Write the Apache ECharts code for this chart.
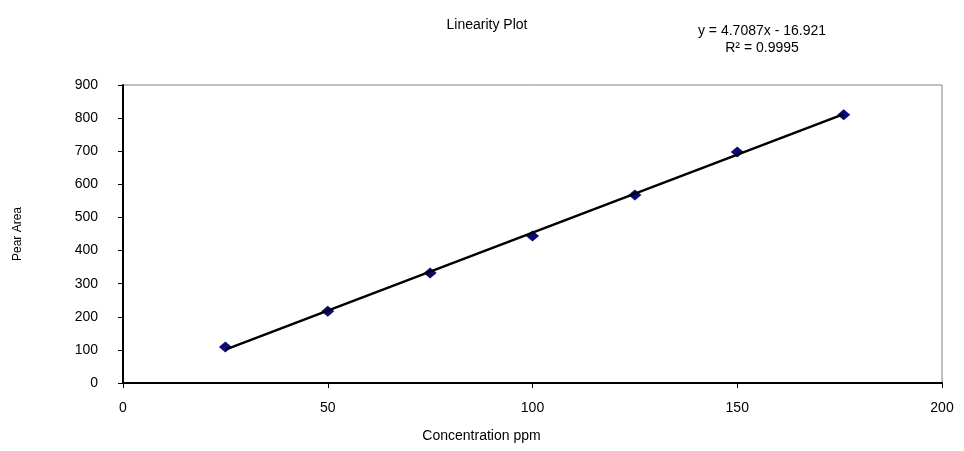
<!DOCTYPE html>
<html>
<head>
<meta charset="utf-8">
<script src="https://cdn.jsdelivr.net/npm/echarts@6/dist/echarts.min.js"></script>
<style>
  html, body { margin: 0; padding: 0; background: #fff; }
  #chart { width: 964px; height: 451px; }
</style>
</head>
<body>
<div id="chart"></div>
<script>
// ---- data ----
const concentration = [25, 50, 75, 100, 125, 150, 176];
const peakArea = [109, 217, 332, 444, 568, 698, 810];
const trendSlope = 4.7087;
const trendIntercept = -16.921;
const rSquared = '0.9995';
const titleText = 'Linearity Plot';
const xAxisName = 'Concentration ppm';
const yAxisName = 'Pear Area';
const xTickRange = [0, 200, 50];
const yTickRange = [0, 900, 100];

const pointData = concentration.map((x, i) => [x, peakArea[i]]);
const xMinData = Math.min(...concentration);
const xMaxData = Math.max(...concentration);
const trendData = [xMinData, xMaxData].map(x => [x, trendSlope * x + trendIntercept]);
const eqText = 'y = ' + trendSlope + 'x - ' + Math.abs(trendIntercept) + '\nR² = ' + rSquared;

const FONT = '"Liberation Sans", Arial, sans-serif';
const chart = echarts.init(document.getElementById('chart'), null, { renderer: 'canvas' });
chart.setOption({
  animation: false,
  backgroundColor: '#ffffff',
  title: [
    { text: titleText, left: 482, top: 13, textAlign: 'center',
      textStyle: { fontFamily: FONT, fontSize: 14, fontWeight: 'normal', color: '#000' } },
    { text: eqText, left: 757, top: 18, textAlign: 'center',
      textStyle: { fontFamily: FONT, fontSize: 14, fontWeight: 'normal', color: '#000', lineHeight: 17 } }
  ],
  grid: { left: 123, right: 22, top: 85, bottom: 68, show: true, borderColor: '#808080', borderWidth: 1, containLabel: false },
  xAxis: {
    type: 'value', min: xTickRange[0], max: xTickRange[1], interval: xTickRange[2],
    name: xAxisName, nameLocation: 'middle', nameGap: 46,
    nameTextStyle: { fontFamily: FONT, fontSize: 14, color: '#000', padding: [0, 102, 0, 0] },
    axisLine: { show: true, onZero: false, lineStyle: { color: '#000', width: 2 } },
    axisTick: { show: true, inside: false, length: 5, lineStyle: { color: '#000', width: 1 } },
    axisLabel: { margin: 18, fontFamily: FONT, fontSize: 14, color: '#000' },
    splitLine: { show: false }
  },
  yAxis: {
    type: 'value', min: yTickRange[0], max: yTickRange[1], interval: yTickRange[2],
    name: yAxisName, nameLocation: 'middle', nameGap: 99, nameRotate: 90,
    nameTextStyle: { fontFamily: FONT, fontSize: 12, color: '#000' },
    axisLine: { show: true, onZero: false, lineStyle: { color: '#000', width: 2 } },
    axisTick: { show: true, inside: false, length: 5, lineStyle: { color: '#000', width: 1 } },
    axisLabel: { margin: 25, fontFamily: FONT, fontSize: 14, color: '#000' },
    splitLine: { show: false }
  },
  series: [
    { type: 'scatter', data: pointData, symbol: 'diamond', symbolSize: [13, 11],
      itemStyle: { color: '#0a0a78', opacity: 1 }, z: 2 },
    { type: 'line', data: trendData, showSymbol: false, symbol: 'none',
      lineStyle: { color: '#000', width: 2.5 }, z: 3, silent: true }
  ]
});
</script>
</body>
</html>
